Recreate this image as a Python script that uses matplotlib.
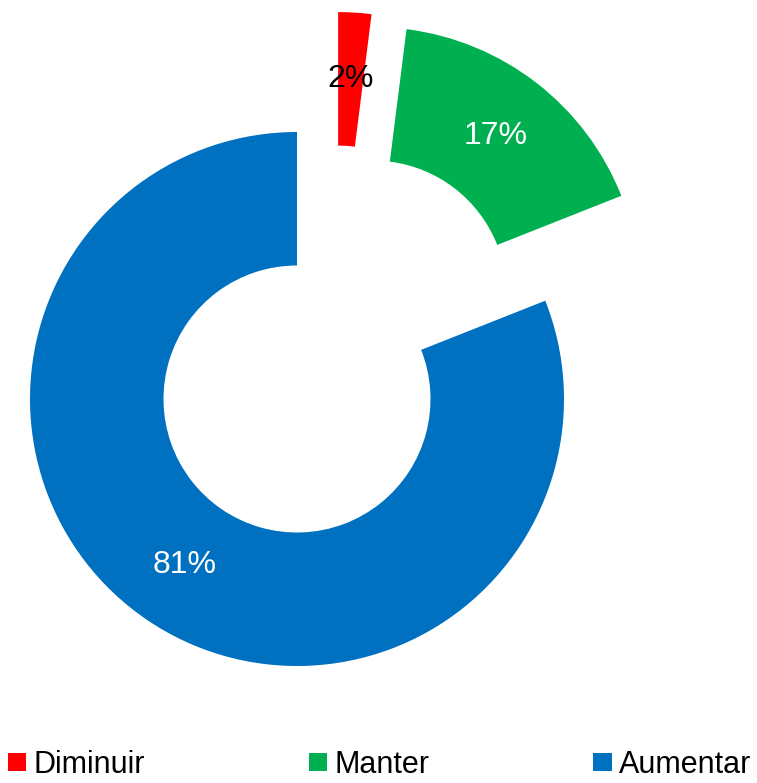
import matplotlib
matplotlib.use('Agg')
import matplotlib.pyplot as plt
import numpy as np

# dados do gráfico
categorias = ['Diminuir', 'Manter', 'Aumentar']
valores = [2, 17, 81]
rotulos = ['2%', '17%', '81%']
cores = ['#FF0000', '#00B050', '#0070C0']
cores_texto = ['black', 'white', 'white']
# deslocamento de cada fatia (em unidades do raio)
deslocamentos = [(0.154, 0.449), (0.285, 0.393), (0.0, 0.0)]

plt.rcParams['font.family'] = ['Liberation Sans', 'DejaVu Sans']

fig = plt.figure(figsize=(7.57, 7.83), dpi=100)
ax = fig.add_axes([0, 0, 1, 1])

fatias, _ = ax.pie(valores, colors=cores, startangle=90, counterclock=False,
                   radius=1.0, wedgeprops=dict(width=0.5, linewidth=0))

# move as fatias e escreve os rótulos
for fatia, (dx, dy), rot, cor in zip(fatias, deslocamentos, rotulos, cores_texto):
    fatia.set_center((dx, dy))
    meio = np.deg2rad((fatia.theta1 + fatia.theta2) / 2)
    ax.text(dx + 0.75 * np.cos(meio), dy + 0.75 * np.sin(meio), rot,
            ha='center', va='center', fontsize=23, color=cor)

ax.set_xlim(-297 / 267, 460 / 267)
ax.set_ylim(-384 / 267, 399 / 267)
ax.set_aspect('equal')
ax.axis('off')

fig.legend(fatias, categorias, loc='center left', ncol=3,
           bbox_to_anchor=(8 / 757, 1 - 765 / 783), frameon=False,
           fontsize=22, handlelength=0.6, handleheight=0.55,
           handletextpad=0.25, columnspacing=5.35, borderpad=0, borderaxespad=0)

fig.savefig('out.png', dpi=100)
